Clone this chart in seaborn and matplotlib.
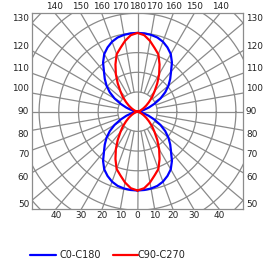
import numpy as np
import pandas as pd
import matplotlib.pyplot as plt
import seaborn as sns
from matplotlib.lines import Line2D

# intensity per gamma angle, in grid-ring units (curves are symmetric in every quadrant)
gamma = [0, 5, 10, 15, 20, 25, 30, 35, 40, 45, 50, 55, 60, 65, 70, 75, 80, 85, 90]
c0_c180 = [4.00, 3.99, 3.96, 3.90, 3.78, 3.60, 3.38, 3.05, 2.65, 2.35, 2.05, 1.72,
           1.35, 0.95, 0.60, 0.32, 0.14, 0.04, 0.0]
c90_c270 = [4.00, 3.90, 3.65, 3.35, 3.10, 2.65, 2.20, 1.75, 1.35, 1.05, 0.76, 0.54,
            0.36, 0.22, 0.12, 0.06, 0.03, 0.01, 0.0]

bottom_labels = [0, 10, 20, 30, 40]
side_labels = [50, 60, 70, 80, 90, 100, 110, 120, 130]
top_labels = [140, 150, 160, 170, 180]


def outline(r):
    g = np.radians(gamma)
    r = np.array(r)
    # lower right, upper right, upper left, lower left
    x = np.concatenate([r * np.sin(g), (r * np.sin(g))[::-1], -r * np.sin(g), (-r * np.sin(g))[::-1]])
    y = np.concatenate([-r * np.cos(g), (r * np.cos(g))[::-1], r * np.cos(g), (-r * np.cos(g))[::-1]])
    return x, y


sns.set_style("white")
plt.rcParams['font.family'] = ['DejaVu Sans']

fig = plt.figure(figsize=(2.75, 2.66), dpi=100)
ax = fig.add_axes([32 / 275, 57 / 266, 211 / 275, 196 / 266])
xr, yt, yb = 5.36, 5.01, 4.94
ax.set_xlim(-xr, xr)
ax.set_ylim(-yb, yt)
ax.set_xticks([])
ax.set_yticks([])
for s in ax.spines.values():
    s.set_color('#8c8c8c')
    s.set_linewidth(0.9)

grid = '#8a8a8a'
t = np.linspace(0, 2 * np.pi, 400)
for k in range(1, 9):
    ax.plot(k * np.cos(t), k * np.sin(t), color=grid, lw=0.9, zorder=1)
for a in range(0, 360, 10):
    ar = np.radians(a)
    r0 = 0 if a % 90 == 0 else 1
    ax.plot([r0 * np.cos(ar), 12 * np.cos(ar)], [r0 * np.sin(ar), 12 * np.sin(ar)],
            color=grid, lw=0.9, zorder=1)

frames = []
for name, r in [("C0-C180", c0_c180), ("C90-C270", c90_c270)]:
    x, y = outline(r)
    frames.append(pd.DataFrame({"x": x, "y": y, "plane": name}))
df = pd.concat(frames)
sns.lineplot(data=df, x="x", y="y", hue="plane", units="plane", estimator=None, sort=False,
             palette={"C0-C180": "#0000ff", "C90-C270": "#ff0000"}, lw=1.6, legend=False,
             ax=ax, zorder=3)
ax.set_xlabel("")
ax.set_ylabel("")

fs = 6.4
tc = '#222222'
# bottom labels where the radial lines meet the bottom edge
for g in bottom_labels:
    for sgn in ([1] if g == 0 else [-1, 1]):
        ax.text(sgn * yb * np.tan(np.radians(g)), -yb - 0.12, str(g), ha='center', va='top',
                fontsize=fs, color=tc, clip_on=False)
# top labels
for g in top_labels:
    for sgn in ([1] if g == 180 else [-1, 1]):
        ax.text(sgn * yt * np.tan(np.radians(180 - g)), yt + 0.08, str(g), ha='center', va='bottom',
                fontsize=fs, color=tc, clip_on=False)
# side labels
for g in side_labels:
    yy = -xr * np.cos(np.radians(g)) / np.sin(np.radians(g))
    va = 'center' if g == 90 else ('top' if g < 90 else 'bottom')
    ax.text(-xr - 0.15, yy, str(g), ha='right', va=va, fontsize=fs, color=tc, clip_on=False)
    ax.text(xr + 0.15, yy, str(g), ha='left', va=va, fontsize=fs, color=tc, clip_on=False)

# legend row
ly = 11 / 266
fig.add_artist(Line2D([30 / 275, 56 / 275], [ly, ly], color='#0000ff', lw=1.6))
fig.text(60 / 275, ly, "C0-C180", ha='left', va='center', fontsize=7, color=tc)
fig.add_artist(Line2D([113 / 275, 138 / 275], [ly, ly], color='#ff0000', lw=1.6))
fig.text(138 / 275, ly, "C90-C270", ha='left', va='center', fontsize=7, color=tc)

fig.savefig("out.png", dpi=100)
